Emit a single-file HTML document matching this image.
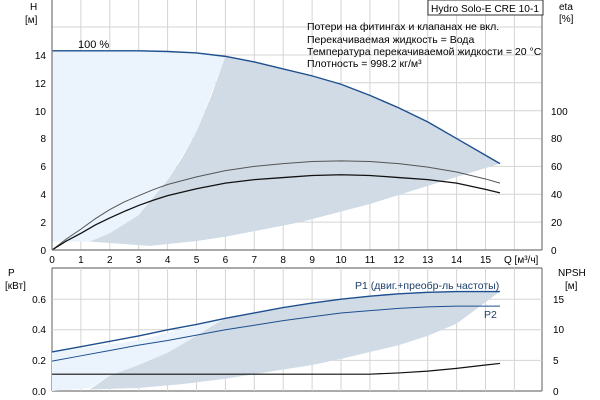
<!DOCTYPE html>
<html><head><meta charset="utf-8"><style>
body{margin:0;background:#fff;}
svg{display:block;font-family:"Liberation Sans",sans-serif;font-size:10px;}
.g{stroke:#d4d4d4;stroke-width:1;}
</style></head><body>
<svg width="600" height="400" viewBox="0 0 600 400">
<rect width="600" height="400" fill="#fff"/>
<g class="g">
<line x1="80.9" y1="0" x2="80.9" y2="250"/><line x1="109.8" y1="0" x2="109.8" y2="250"/><line x1="138.7" y1="0" x2="138.7" y2="250"/><line x1="167.6" y1="0" x2="167.6" y2="250"/><line x1="196.5" y1="0" x2="196.5" y2="250"/><line x1="225.4" y1="0" x2="225.4" y2="250"/><line x1="254.3" y1="0" x2="254.3" y2="250"/><line x1="283.2" y1="0" x2="283.2" y2="250"/><line x1="312.1" y1="0" x2="312.1" y2="250"/><line x1="341" y1="0" x2="341" y2="250"/><line x1="369.9" y1="0" x2="369.9" y2="250"/><line x1="398.8" y1="0" x2="398.8" y2="250"/><line x1="427.7" y1="0" x2="427.7" y2="250"/><line x1="456.6" y1="0" x2="456.6" y2="250"/><line x1="485.5" y1="0" x2="485.5" y2="250"/><line x1="514.4" y1="0" x2="514.4" y2="250"/>
<line x1="52" y1="222.1" x2="542" y2="222.1"/><line x1="52" y1="194.3" x2="542" y2="194.3"/><line x1="52" y1="166.4" x2="542" y2="166.4"/><line x1="52" y1="138.6" x2="542" y2="138.6"/><line x1="52" y1="110.7" x2="542" y2="110.7"/><line x1="52" y1="82.8" x2="542" y2="82.8"/><line x1="52" y1="55" x2="542" y2="55"/><line x1="52" y1="27" x2="542" y2="27"/>
</g>
<g transform="translate(52,250) scale(28.9,-13.93)">
<path fill="#ebf3fc" d="M0,14.3 L4,14.25 L5,14.15 L6,13.9 L5,8.5 L4,5 L3,2.5 L2,1.2 L1.3,0.6 L0,0.6Z"/>
<path fill="#d0dbe6" d="M1.3,0.6 L2,1.2 L3,2.5 L4,5 L4.5,6.6 L5,8.5 L5.5,11 L6,13.9 L7,13.5 L8,13 L9,12.5 L10,11.9 L11,11.1 L12,10.2 L13,9.2 L14,8 L15,6.8 L15.5,6.2 L13,4.6 L11,3.3 L8.6,2.0 L6,0.95 L5,0.65 L3.4,0.3Z"/>
<polyline fill="none" stroke="#1d4f8f" stroke-width="1.4" vector-effect="non-scaling-stroke" points="0,14.3 3,14.3 4,14.25 5,14.15 6,13.9 7,13.5 8,13 9,12.5 10,11.9 11,11.1 12,10.2 13,9.2 14,8 15,6.8 15.5,6.2"/>
<polyline fill="none" stroke="#555" stroke-width="1" vector-effect="non-scaling-stroke" points="0,0 0.5,0.8 1,1.5 1.5,2.25 2,2.9 2.5,3.45 3,3.9 3.5,4.33 4,4.7 5,5.25 6,5.7 7,6 8,6.2 9,6.35 10,6.4 11,6.35 12,6.2 13,5.95 14,5.6 15,5.1 15.5,4.8"/>
<polyline fill="none" stroke="#111" stroke-width="1.3" vector-effect="non-scaling-stroke" points="0,0 0.5,0.65 1,1.2 1.5,1.8 2,2.3 2.5,2.77 3,3.2 3.5,3.57 4,3.9 5,4.4 6,4.8 7,5.05 8,5.2 9,5.35 10,5.4 11,5.35 12,5.2 13,5.05 14,4.8 15,4.35 15.5,4.1"/>
</g>
<text x="78" y="48" font-size="11">100 %</text>
<g stroke="#777" stroke-width="1.2">
<line x1="52" y1="0" x2="52" y2="250"/><line x1="52" y1="250" x2="542" y2="250"/><line x1="542" y1="0" x2="542" y2="250"/>
<line x1="52" y1="268" x2="52" y2="391"/><line x1="52" y1="391" x2="542" y2="391"/><line x1="542" y1="268" x2="542" y2="391"/><line x1="52" y1="268" x2="542" y2="268"/>
</g>
<rect x="428" y="0" width="115" height="15" fill="#fff" stroke="#333"/>
<text x="431" y="12" font-size="10.5" textLength="108" lengthAdjust="spacingAndGlyphs">Hydro Solo-E CRE 10-1</text>
<g font-size="10.5">
<text x="307" y="30">Потери на фитингах и клапанах не вкл.</text>
<text x="307" y="43">Перекачиваемая жидкость = Вода</text>
<text x="307" y="55">Температура перекачиваемой жидкости = 20 °C</text>
<text x="307" y="67">Плотность = 998.2 кг/м³</text>
</g>
<text x="30" y="10">H</text><text x="25" y="23">[м]</text>
<text x="559" y="10">eta</text><text x="559" y="22">[%]</text>
<g text-anchor="end">
<text x="46" y="254">0</text><text x="46" y="226">2</text><text x="46" y="198">4</text><text x="46" y="170">6</text><text x="46" y="142">8</text><text x="46" y="115">10</text><text x="46" y="87">12</text><text x="46" y="59">14</text>
</g>
<g>
<text x="551" y="254">0</text><text x="551" y="226">20</text><text x="551" y="198">40</text><text x="551" y="170">60</text><text x="551" y="142">80</text><text x="551" y="115">100</text>
</g>
<g text-anchor="middle">
<text x="52" y="263">0</text><text x="80.9" y="263">1</text><text x="109.8" y="263">2</text><text x="138.7" y="263">3</text><text x="167.6" y="263">4</text><text x="196.5" y="263">5</text><text x="225.4" y="263">6</text><text x="254.3" y="263">7</text><text x="283.2" y="263">8</text><text x="312.1" y="263">9</text><text x="341" y="263">10</text><text x="369.9" y="263">11</text><text x="398.8" y="263">12</text><text x="427.7" y="263">13</text><text x="456.6" y="263">14</text><text x="485.5" y="263">15</text>
</g>
<text x="504" y="263">Q [м³/ч]</text>
<g class="g">
<line x1="80.9" y1="268" x2="80.9" y2="391"/><line x1="109.8" y1="268" x2="109.8" y2="391"/><line x1="138.7" y1="268" x2="138.7" y2="391"/><line x1="167.6" y1="268" x2="167.6" y2="391"/><line x1="196.5" y1="268" x2="196.5" y2="391"/><line x1="225.4" y1="268" x2="225.4" y2="391"/><line x1="254.3" y1="268" x2="254.3" y2="391"/><line x1="283.2" y1="268" x2="283.2" y2="391"/><line x1="312.1" y1="268" x2="312.1" y2="391"/><line x1="341" y1="268" x2="341" y2="391"/><line x1="369.9" y1="268" x2="369.9" y2="391"/><line x1="398.8" y1="268" x2="398.8" y2="391"/><line x1="427.7" y1="268" x2="427.7" y2="391"/><line x1="456.6" y1="268" x2="456.6" y2="391"/><line x1="485.5" y1="268" x2="485.5" y2="391"/><line x1="514.4" y1="268" x2="514.4" y2="391"/>
<line x1="52" y1="360.4" x2="542" y2="360.4"/><line x1="52" y1="329.8" x2="542" y2="329.8"/><line x1="52" y1="299.2" x2="542" y2="299.2"/>
</g>
<g transform="translate(52,391) scale(28.9,-153)">
<path fill="#ebf3fc" d="M0,0.255 L3,0.33 L6,0.475 L5.5,0.42 L5,0.36 L4,0.25 L3,0.17 L2,0.1 L1.3,0.02 L0,0Z"/>
<path fill="#d0dbe6" d="M1.3,0.01 L2,0.1 L3,0.17 L4,0.25 L5,0.36 L5.5,0.42 L6,0.475 L8,0.54 L10,0.6 L11,0.62 L13,0.645 L15.5,0.65 L15,0.58 L14,0.44 L13,0.36 L12,0.3 L10,0.21 L9,0.17 L7,0.11 L6,0.08 L4.5,0.045 L3,0.02Z"/>
<polyline fill="none" stroke="#1d4f8f" stroke-width="1.4" vector-effect="non-scaling-stroke" points="0,0.255 1,0.29 2,0.325 3,0.36 4,0.4 5,0.435 6,0.475 7,0.51 8,0.545 9,0.575 10,0.6 11,0.62 12,0.635 13,0.645 14,0.65 15.5,0.65"/>
<polyline fill="none" stroke="#1d4f8f" stroke-width="1" vector-effect="non-scaling-stroke" points="0,0.195 1,0.23 2,0.265 3,0.3 4,0.33 5,0.365 6,0.4 7,0.43 8,0.46 9,0.485 10,0.51 11,0.525 12,0.54 13,0.55 14,0.555 15.5,0.555"/>
<polyline fill="none" stroke="#111" stroke-width="1.2" vector-effect="non-scaling-stroke" points="0,0.11 11,0.11 12,0.118 13,0.13 14,0.148 15,0.17 15.5,0.18"/>
</g>
<text x="355" y="289" font-size="10.5" fill="#1d3d6b">P1 (двиг.+преобр-ль частоты)</text>
<text x="484" y="318" font-size="10.5" fill="#1d3d6b">P2</text>
<text x="8" y="276">P</text><text x="5" y="289">[кВт]</text>
<text x="558" y="276">NPSH</text><text x="565" y="289">[м]</text>
<g text-anchor="end">
<text x="46" y="395">0.0</text><text x="46" y="364">0.2</text><text x="46" y="333">0.4</text><text x="46" y="303">0.6</text>
</g>
<g>
<text x="553" y="395">0</text><text x="553" y="364">5</text><text x="553" y="333">10</text><text x="553" y="303">15</text>
</g>
</svg>
</body></html>
